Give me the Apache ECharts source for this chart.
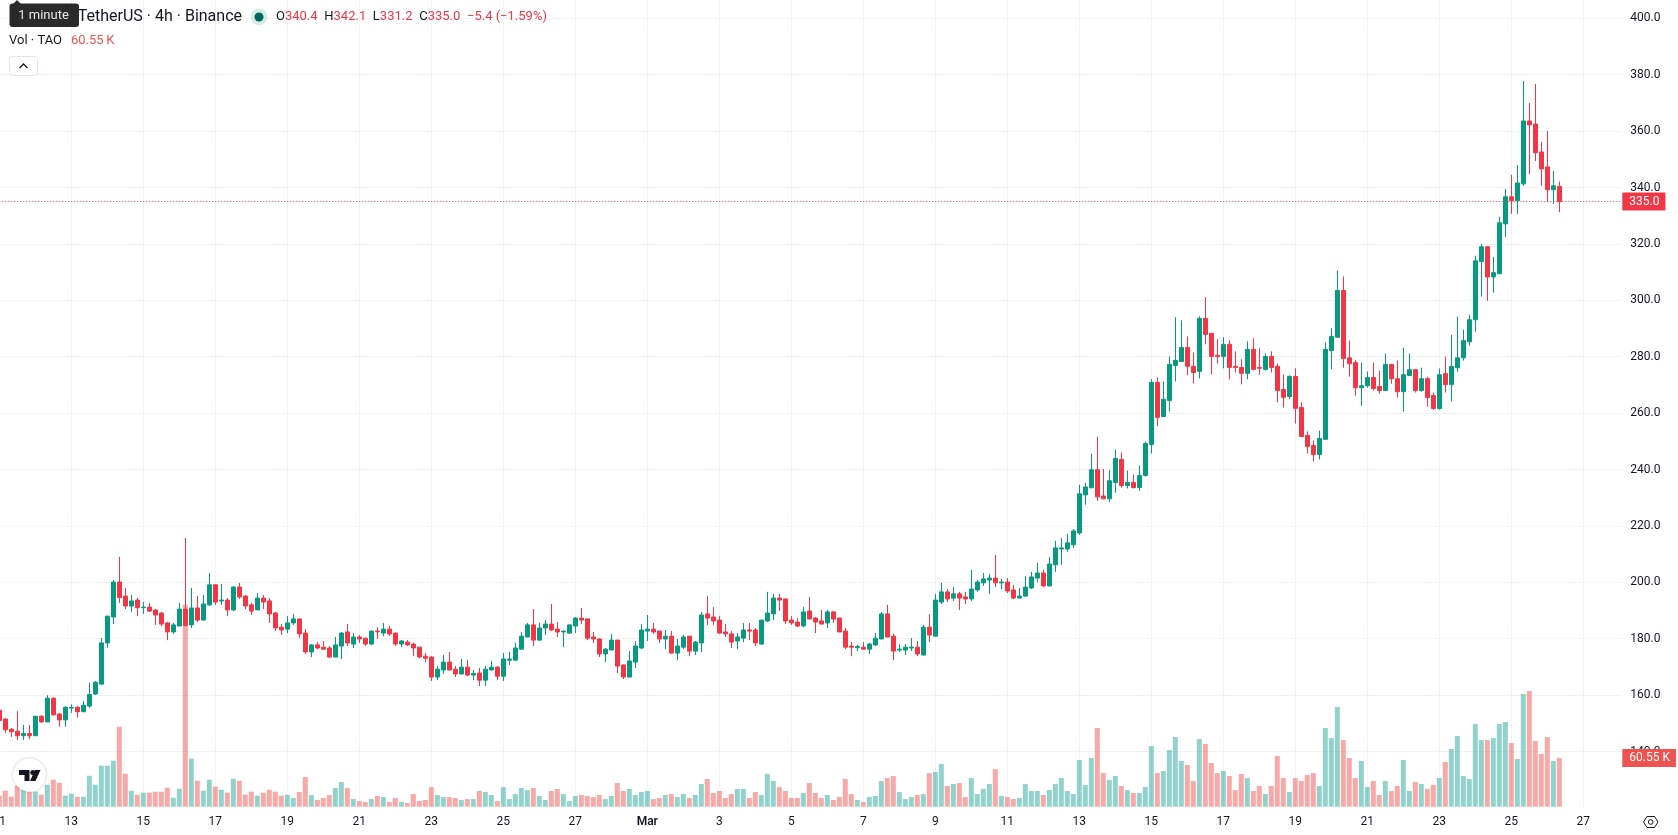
<!DOCTYPE html>
<html>
<head>
<meta charset="utf-8">
<title>TAO / USDT 4h</title>
<style>html,body{margin:0;padding:0;background:#fff;overflow:hidden}#chart{width:1678px;height:835px}</style>
<script src="https://cdn.jsdelivr.net/npm/echarts@6/dist/echarts.min.js"></script>
</head>
<body>
<div id="chart"></div>
<script>
// 4h candles, oldest first
const opens = [
154.6,151.5,147.9,147.2,145.6,146.4,145.6,152.5,150.5,158.9,
153.3,151.2,155.4,155.7,154.1,156.1,160.4,163.9,178.5,187.7,
200.1,195.1,191.6,193.7,191.0,191.2,190.2,189.1,185.6,182.4,
184.5,190.5,184.9,190.9,186.6,192.0,199.1,193.4,193.7,190.2,
198.3,195.1,192.0,190.2,194.4,193.4,189.1,184.1,183.4,185.6,
187.0,182.0,175.3,177.8,177.0,176.7,173.5,177.4,182.4,178.1,
180.6,180.2,178.1,182.7,182.0,183.4,182.0,178.1,178.8,178.1,
177.0,173.8,173.5,166.4,168.9,171.7,169.2,167.5,169.9,167.1,
167.8,165.3,168.9,169.9,166.7,172.4,172.4,176.3,180.6,184.9,
179.5,183.8,185.2,183.4,182.4,182.0,184.5,187.3,187.0,180.6,
179.9,174.6,176.0,179.5,170.7,166.4,171.7,176.7,182.7,183.4,
182.7,179.9,180.9,174.9,177.0,180.9,175.6,178.5,188.8,187.7,
186.6,182.4,181.7,179.2,180.2,183.1,183.1,178.1,186.3,188.8,
194.4,194.1,186.6,185.9,184.5,189.8,187.3,186.3,185.6,189.5,
187.3,182.7,177.4,176.8,177.0,176.3,177.8,179.9,188.8,180.9,
176.0,176.0,176.7,177.0,174.2,184.1,180.9,193.0,196.6,194.4,
195.9,194.8,194.1,197.3,199.8,200.8,201.5,199.8,200.1,197.3,
194.4,195.1,198.0,201.5,203.3,198.7,206.2,211.8,211.8,213.3,
217.5,231.0,233.5,239.9,230.6,229.6,235.4,243.6,234.3,235.4,
233.6,237.9,248.9,270.9,258.8,264.5,276.9,278.3,283.3,276.6,
274.8,293.6,288.3,280.5,280.1,284.4,276.6,276.2,274.1,282.6,
276.2,275.5,280.1,276.6,268.4,265.9,273.0,262.0,252.1,248.5,
245.3,250.7,282.2,286.9,303.5,279.6,277.9,269.0,269.7,272.6,
269.4,268.0,277.2,272.2,267.6,273.3,275.4,268.0,272.2,266.2,
261.6,274.0,270.1,276.1,279.6,285.3,293.1,313.7,319.0,308.3,
309.4,327.1,336.7,335.3,341.3,363.6,362.5,352.6,347.3,339.2,
340.4];
const closes = [
151.0,147.7,147.0,145.6,146.4,145.6,152.5,150.5,158.9,153.0,
151.2,155.7,155.6,154.1,156.4,160.2,164.6,178.5,188.0,200.1,
194.6,191.6,193.4,191.0,191.2,189.8,188.4,185.2,182.4,184.9,
190.5,184.7,190.9,186.6,192.3,199.1,193.0,193.7,190.2,198.3,
194.8,191.6,189.8,194.4,193.0,188.8,183.8,183.1,185.6,187.0,
181.7,175.3,177.8,176.7,176.3,173.5,177.8,182.0,178.5,180.6,
179.9,178.1,182.7,182.4,183.4,181.7,178.1,179.2,177.8,176.7,
173.5,173.1,166.4,169.2,171.7,168.9,167.5,169.9,167.1,167.7,
165.3,169.2,169.9,166.7,172.8,172.8,176.7,180.9,184.9,179.5,
183.8,185.2,183.1,182.4,182.7,184.9,187.3,186.6,180.2,179.9,
174.6,176.3,179.5,170.3,166.4,172.1,177.4,183.1,183.4,182.4,
179.9,180.9,174.9,177.4,180.6,175.6,178.8,188.4,187.3,186.3,
182.0,181.7,178.8,180.6,183.1,182.7,178.5,186.6,189.1,194.4,
193.7,186.3,185.6,184.5,189.5,187.0,185.9,185.2,189.5,187.0,
182.4,177.0,177.0,177.2,176.3,178.1,180.2,188.8,180.6,175.6,
176.3,177.0,177.0,174.6,184.1,181.3,193.7,196.6,194.1,195.9,
194.4,194.1,197.6,200.1,201.2,201.5,199.8,200.1,196.9,194.4,
195.1,198.3,201.9,203.3,198.7,206.5,212.2,212.2,214.0,218.2,
231.4,233.8,239.9,230.3,229.6,236.0,243.9,234.3,235.4,233.6,
237.9,249.2,270.9,258.5,264.9,277.3,278.7,283.3,276.6,274.4,
293.6,287.9,280.1,280.1,284.4,276.2,276.2,274.1,282.6,275.5,
275.9,280.1,276.2,268.0,265.6,273.0,261.7,251.7,248.2,245.3,
251.0,282.6,287.2,303.5,279.4,277.5,269.0,269.7,272.6,268.7,
268.0,277.2,272.2,267.6,273.6,275.4,268.0,272.2,265.5,261.6,
273.6,270.1,276.5,279.6,285.7,293.1,314.0,319.0,308.3,309.8,
327.5,336.7,335.3,341.6,363.6,362.2,352.3,346.6,339.2,340.6,
335.0];
const highs = [
155.0,151.8,148.3,154.3,149.4,149.4,152.6,152.9,160.0,159.2,
153.6,156.1,156.7,156.1,157.9,164.4,165.0,180.2,188.1,200.8,
209.0,198.0,195.5,194.4,193.0,192.7,190.5,189.5,185.9,185.6,
192.7,215.7,198.0,195.1,195.5,203.3,199.2,199.4,194.4,198.7,
199.8,195.5,192.7,196.2,195.5,194.4,189.5,185.2,188.0,188.8,
187.1,183.4,178.1,178.8,179.2,177.4,180.6,182.4,185.2,182.0,
181.3,180.3,182.8,184.1,185.6,184.5,182.1,179.5,179.5,178.5,
177.1,174.9,173.8,170.3,174.2,175.3,170.3,172.8,172.4,168.9,
169.6,170.3,172.1,170.3,174.9,175.3,178.5,182.4,185.6,190.5,
185.6,186.6,192.3,185.9,182.8,185.0,187.7,190.9,187.3,182.4,
180.2,176.7,181.7,179.6,170.8,175.6,179.2,185.2,188.4,185.6,
182.8,183.1,182.7,179.9,181.3,181.0,179.2,189.5,195.1,191.2,
188.0,185.2,182.7,182.0,185.6,185.6,183.8,186.7,196.6,195.9,
195.9,194.2,188.0,187.3,191.2,194.8,187.7,190.2,190.2,189.8,
187.4,183.8,178.8,177.8,178.8,178.5,182.0,189.5,192.0,181.7,
178.1,178.1,180.2,179.2,184.9,188.8,195.9,199.8,197.6,198.3,
196.6,196.6,204.4,200.8,203.3,203.0,209.7,201.2,201.5,199.1,
198.0,202.2,203.7,206.9,204.4,209.0,214.7,215.7,217.2,218.9,
234.6,235.3,245.6,251.6,240.2,239.9,247.1,246.0,239.6,238.2,
241.4,249.9,272.0,272.7,271.2,280.1,294.0,292.9,287.2,281.5,
294.3,301.1,288.4,286.2,286.9,285.8,281.9,279.1,285.4,286.5,
283.0,281.2,281.9,277.6,273.7,273.4,275.9,263.8,253.5,250.3,
253.8,285.1,290.1,310.6,308.5,285.7,278.9,277.9,274.7,277.9,
275.1,281.1,277.5,278.6,283.2,281.1,275.5,276.1,272.9,267.3,
275.8,280.0,287.8,294.2,289.6,294.9,315.8,320.0,319.1,315.4,
329.6,339.5,344.5,348.0,377.8,370.0,376.7,356.2,360.0,345.9,
342.1];
const lows = [
150.5,146.6,145.2,144.1,144.1,144.4,145.5,150.2,150.4,152.7,
148.8,148.8,153.7,152.0,154.1,155.5,160.0,163.7,176.8,185.2,
192.7,190.5,189.5,188.0,188.8,189.5,184.9,184.4,179.5,181.7,
184.5,184.4,183.8,185.9,186.5,191.6,192.0,192.0,188.0,189.8,
194.1,190.5,188.4,190.2,190.5,185.6,182.7,181.3,182.0,184.9,
180.2,174.6,173.5,176.3,176.2,173.1,173.4,172.8,177.4,176.7,
178.5,177.4,177.8,179.9,180.9,180.9,177.4,177.0,177.4,173.8,
173.1,171.7,165.0,165.3,167.5,168.8,166.4,167.4,166.7,165.3,
163.2,163.2,168.8,165.3,165.0,170.7,172.1,176.2,180.5,177.4,
179.2,181.3,182.7,180.6,177.0,181.7,182.0,185.2,179.5,178.5,
173.5,171.7,175.9,167.8,165.7,166.3,169.6,176.3,179.2,181.7,
178.5,176.3,174.8,172.4,176.3,173.8,174.2,175.3,184.9,184.9,
181.7,180.6,176.7,176.3,178.8,179.5,177.4,177.8,185.9,186.6,
189.8,185.2,184.9,184.1,184.1,186.9,182.0,185.1,183.8,185.6,
182.3,176.3,173.8,175.6,176.2,174.6,177.4,179.8,180.5,172.4,
175.3,174.2,175.6,173.8,174.1,178.8,180.8,192.3,193.0,193.4,
190.2,192.3,193.4,196.6,198.7,195.9,198.3,197.6,196.2,194.1,
194.3,194.8,197.6,200.1,198.3,198.6,203.7,206.2,210.8,212.2,
216.8,227.5,233.4,228.9,229.5,228.5,231.8,233.6,233.3,233.3,
232.5,237.5,245.7,255.3,258.7,260.6,271.2,278.2,273.4,270.5,
272.3,284.4,273.7,277.6,275.9,272.0,274.4,270.2,272.0,275.1,
273.7,275.1,274.4,263.8,262.0,264.9,256.3,251.6,245.7,242.8,
243.6,250.6,275.5,286.8,276.1,272.9,266.2,262.6,269.0,268.0,
266.9,267.9,270.4,265.5,260.5,273.2,267.3,267.6,262.3,261.2,
261.2,267.3,264.1,274.7,278.6,283.9,288.9,301.3,299.8,302.7,
309.3,322.5,330.7,330.7,340.6,344.8,349.4,340.6,334.9,334.2,
331.2];
// Traded volume per candle, in thousands of TAO
const volumes = [
13.7,19.9,12.4,26.1,21.1,18.6,18.6,14.9,27.3,33.6,
29.8,13.7,16.2,12.4,12.4,38.5,27.3,51.0,51.0,57.2,
99.4,41.0,19.9,14.9,17.4,17.4,18.6,18.6,23.6,11.2,
22.4,251.1,59.7,32.3,19.9,33.6,24.9,21.1,17.4,34.8,
32.3,14.9,18.6,13.7,17.4,21.1,18.6,13.7,14.9,10.8,
18.2,36.9,14.5,8.3,10.8,14.5,23.2,30.7,23.2,9.5,
7.0,5.8,9.5,13.3,12.0,5.8,10.8,5.8,4.6,15.7,
7.0,8.3,24.4,14.5,12.0,12.0,10.8,8.3,9.5,9.5,
19.5,18.2,14.5,7.0,24.4,9.5,15.7,23.2,20.7,23.2,
13.3,8.3,19.5,22.0,15.7,7.0,13.3,14.5,13.3,12.0,
14.5,9.5,13.3,29.4,19.5,22.0,14.5,18.2,19.5,9.5,
10.8,14.5,15.7,12.0,15.7,10.8,14.5,28.2,34.4,17.0,
19.5,10.8,15.7,22.0,22.0,10.8,18.2,14.5,40.6,31.9,
24.4,19.5,10.8,10.8,17.0,29.4,17.0,10.8,14.5,8.3,
12.0,34.4,15.7,8.3,5.8,12.0,13.3,31.9,35.6,38.1,
18.2,9.5,12.0,14.5,15.7,41.8,43.1,53.0,25.7,28.2,
29.4,12.0,35.6,15.7,22.0,28.2,46.8,13.3,12.0,9.5,
10.8,28.2,19.5,19.5,14.5,20.7,28.2,35.6,19.5,15.7,
58.0,26.9,60.5,97.8,41.8,33.1,38.1,25.7,20.7,17.0,
17.0,24.4,75.4,41.8,44.3,70.4,86.6,56.8,51.8,31.9,
84.1,77.9,54.3,41.8,44.3,38.1,20.7,40.6,35.6,19.5,
25.7,15.7,25.7,63.0,35.6,18.2,35.6,31.9,39.4,41.8,
25.7,97.8,85.3,123.9,82.9,60.5,35.6,56.8,24.4,31.9,
14.5,31.9,19.5,25.7,58.0,19.5,30.7,28.2,22.0,26.9,
35.6,55.5,71.7,87.8,38.1,34.4,102.7,82.9,82.9,85.3,
102.7,105.2,79.1,59.2,140.0,143.8,81.6,65.5,86.6,56.8,
60.55];

const priceTicks = { min: 120, max: 420, step: 20 };
const volumeTop = 372.9;
const changeAbs = -5.4;
const changePct = -1.59;

// One category per 4h slot from 11 Feb, including the empty slots up to the price scale
const slotCount = 271;
const categories = [];
for (let i = 0; i < slotCount; i++) {
  categories.push(new Date(Date.UTC(2025, 1, 11, i * 4)).toISOString().slice(0, 13));
}

const UP = '#089981', DOWN = '#f23645';
const INK = '#131722';
const GRID = '#f0f2f5';
const FONT = 'Roboto, "Noto Sans", sans-serif';
const last = opens.length - 1;
const fmt = v => v.toFixed(1);

const candleData = opens.map((o, i) => [o, closes[i], lows[i], highs[i]]);
const volumeData = volumes.map((v, i) => ({
  value: v,
  itemStyle: { color: closes[i] >= opens[i] ? 'rgba(38,166,154,0.5)' : 'rgba(239,83,80,0.5)' }
}));

// Plot area bleeds past the canvas so the first candle sits on the left edge
const gridX = { left: -3.7, right: 55.7, outerBoundsMode: 'none' };

const chart = echarts.init(document.getElementById('chart'), null, { renderer: 'canvas' });
chart.setOption({
  animation: false,
  backgroundColor: '#ffffff',
  textStyle: { fontFamily: FONT },
  grid: [
    { ...gridX, top: -38.1, height: 846 },
    { ...gridX, top: 506.7, height: 300 }
  ],
  xAxis: [
    {
      type: 'category', gridIndex: 0, data: categories, boundaryGap: true,
      axisLine: { show: false }, axisTick: { show: false },
      splitLine: { show: true, interval: 11, alignWithLabel: true, lineStyle: { color: GRID, width: 1 } },
      axisLabel: {
        interval: 11, margin: 8, color: INK, fontSize: 12, fontFamily: FONT, hideOverlap: false,
        formatter: v => {
          const day = parseInt(v.slice(8, 10), 10);
          return day === 1 ? '{m|Mar}' : String(day);
        },
        rich: { m: { fontWeight: 600, fontSize: 12, color: INK, fontFamily: FONT } }
      }
    },
    {
      type: 'category', gridIndex: 1, data: categories, boundaryGap: true,
      axisLine: { show: false }, axisTick: { show: false }, axisLabel: { show: false }, splitLine: { show: false }
    }
  ],
  yAxis: [
    {
      type: 'value', gridIndex: 0, position: 'right',
      min: priceTicks.min, max: priceTicks.max, interval: priceTicks.step,
      axisLine: { show: false }, axisTick: { show: false },
      splitLine: { show: true, showMinLine: false, showMaxLine: false, lineStyle: { color: GRID, width: 1 } },
      axisLabel: {
        margin: 8, color: INK, fontSize: 12, fontFamily: FONT, padding: [2, 0, 0, 0],
        showMinLabel: false, showMaxLabel: false, formatter: v => fmt(v)
      }
    },
    {
      type: 'value', gridIndex: 1, position: 'right', min: 0, max: volumeTop,
      axisLine: { show: false }, axisTick: { show: false }, axisLabel: { show: false }, splitLine: { show: false }
    }
  ],
  series: [
    {
      type: 'bar', name: 'Vol', xAxisIndex: 1, yAxisIndex: 1, data: volumeData,
      barWidth: 5, z: 1,
      markLine: {
        silent: true, symbol: 'none', animation: false,
        lineStyle: { color: 'rgba(0,0,0,0)', width: 1 },
        label: {
          position: 'end', distance: 0, color: '#fff', fontSize: 12, fontFamily: FONT,
          backgroundColor: '#ef5350', padding: [4, 6, 2, 7], formatter: volumes[last].toFixed(2) + ' K'
        },
        data: [{ yAxis: volumes[last] }]
      }
    },
    {
      type: 'candlestick', name: 'TAOUSDT', xAxisIndex: 0, yAxisIndex: 0, data: candleData,
      barWidth: 5, z: 3,
      itemStyle: { color: UP, color0: DOWN, borderColor: UP, borderColor0: DOWN, borderWidth: 1 },
      markLine: {
        silent: true, symbol: 'none', animation: false,
        lineStyle: { color: DOWN, type: [1, 2], width: 1 },
        label: {
          position: 'end', distance: 0, color: '#fff', fontSize: 12, fontFamily: FONT,
          backgroundColor: DOWN, padding: [4, 6, 2, 7], formatter: fmt(closes[last])
        },
        data: [{ yAxis: closes[last] }]
      }
    }
  ],
  graphic: [
    // symbol line
    { type: 'text', z: 100, x: 242, y: 17, style: {
        text: 'TetherUS · 4h · Binance', fill: INK, font: '16px ' + FONT, align: 'right', verticalAlign: 'middle' } },
    // "1 minute" tooltip
    { type: 'polygon', z: 101, shape: { points: [[13, 4], [17, 0], [21, 4]] }, style: { fill: '#2a2a2a' } },
    { type: 'rect', z: 101, shape: { x: 9.5, y: 3.5, width: 69.5, height: 23.5, r: 3 }, style: { fill: '#2a2a2a' } },
    { type: 'text', z: 102, x: 43.5, y: 16, style: {
        text: '1 minute', fill: '#e8e8e8', font: '13px ' + FONT, align: 'center', verticalAlign: 'middle' } },
    // market status dot
    { type: 'circle', z: 100, shape: { cx: 259, cy: 17, r: 8.5 }, style: { fill: '#d6ece8' } },
    { type: 'circle', z: 100, shape: { cx: 259, cy: 17, r: 4.5 }, style: { fill: '#00695c' } },
    // OHLC readout
    { type: 'text', z: 100, x: 276, y: 17, style: {
        text: `{k|O}{v|${fmt(opens[last])}}  {k|H}{v|${fmt(highs[last])}}  {k|L}{v|${fmt(lows[last])}}  {k|C}{v|${fmt(closes[last])}}  {v|\u2212${Math.abs(changeAbs)} (\u2212${Math.abs(changePct)}%)}`,
        verticalAlign: 'middle',
        rich: {
          k: { fill: INK, font: '13px ' + FONT },
          v: { fill: DOWN, font: '13px ' + FONT }
        } } },
    // volume legend
    { type: 'text', z: 100, x: 9, y: 41, style: {
        text: 'Vol \u00b7 TAO', fill: INK, font: '13px ' + FONT, verticalAlign: 'middle' } },
    { type: 'text', z: 100, x: 71, y: 41, style: {
        text: `${volumes[last].toFixed(2)}\u2009K`, fill: '#ef5350', font: '13px ' + FONT, verticalAlign: 'middle' } },
    // legend collapse button
    { type: 'rect', z: 100, shape: { x: 9.5, y: 56.5, width: 28, height: 19, r: 3 }, style: { fill: '#fff', stroke: '#e0e3eb', lineWidth: 1 } },
    { type: 'polyline', z: 101, shape: { points: [[19.5, 68], [23.5, 64], [27.5, 68]] }, style: { stroke: INK, fill: 'none', lineWidth: 1.3 } },
    // attribution badge
    { type: 'circle', z: 100, shape: { cx: 29.5, cy: 775, r: 16.5 }, style: { fill: '#fff', shadowBlur: 3, shadowColor: 'rgba(19,23,34,0.25)' } },
    { type: 'polygon', z: 101, shape: { points: [[19, 770], [29.5, 770], [29.5, 781], [24.5, 781], [24.5, 775], [19, 775]] }, style: { fill: '#131722' } },
    { type: 'circle', z: 101, shape: { cx: 32.8, cy: 772.5, r: 2.5 }, style: { fill: '#131722' } },
    { type: 'polygon', z: 101, shape: { points: [[35, 770], [40.5, 770], [35.5, 781], [30, 781]] }, style: { fill: '#131722' } },
    // scale settings icon
    { type: 'polygon', z: 100, shape: { points: [[1643.5, 822], [1647, 816.5], [1654.5, 816.5], [1658, 822], [1654.5, 827.5], [1647, 827.5]] }, style: { fill: 'none', stroke: INK, lineWidth: 1 } },
    { type: 'circle', z: 100, shape: { cx: 1650.7, cy: 822, r: 2.3 }, style: { fill: 'none', stroke: INK, lineWidth: 1 } }
  ]
});
</script>
</body>
</html>
